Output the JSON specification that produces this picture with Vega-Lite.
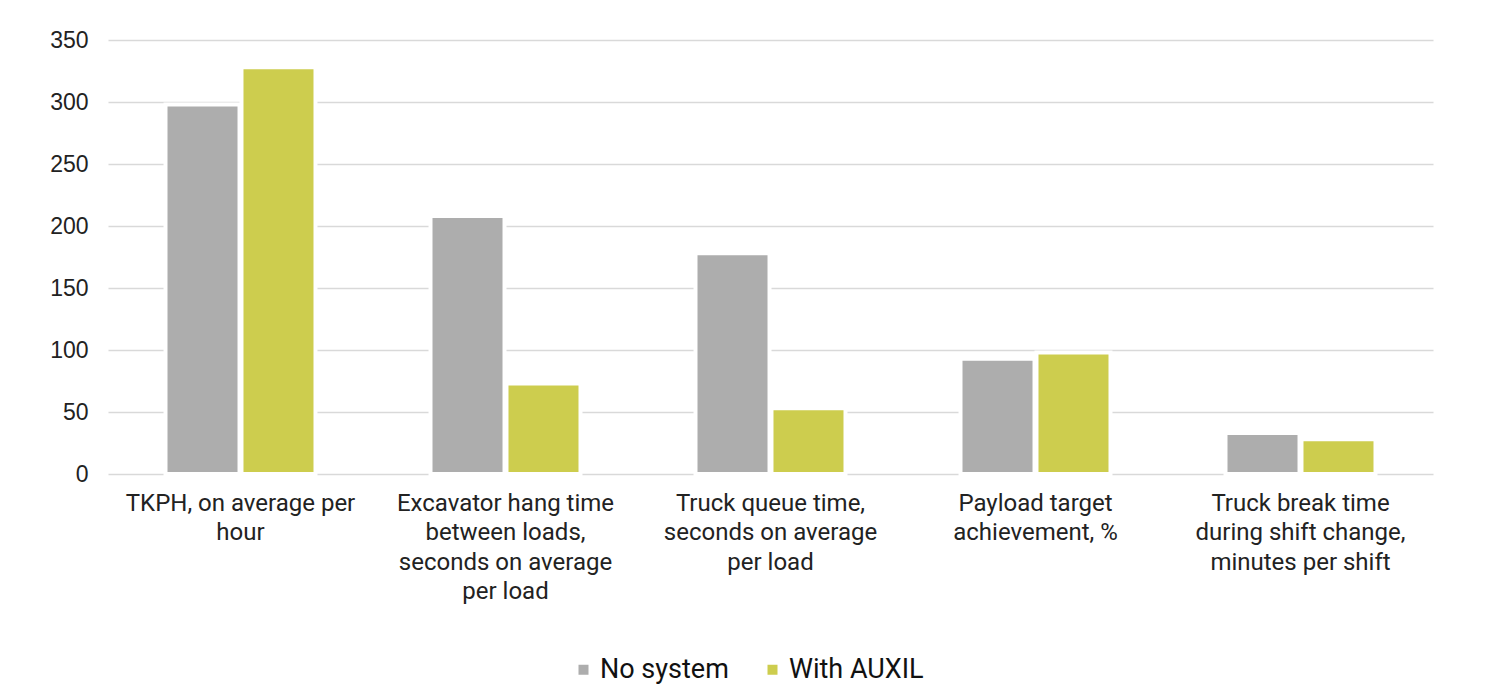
{
  "$schema": "https://vega.github.io/schema/vega-lite/v6.json",
  "width": 1325,
  "height": 434,
  "autosize": {"type": "none"},
  "padding": {"left": 108, "top": 40, "right": 55, "bottom": 225},
  "background": "white",
  "data": {
    "values": [
      {"category": "TKPH, on average per hour", "series": "No system", "value": 298},
      {"category": "TKPH, on average per hour", "series": "With AUXIL", "value": 328},
      {"category": "Excavator hang time between loads, seconds on average per load", "series": "No system", "value": 208},
      {"category": "Excavator hang time between loads, seconds on average per load", "series": "With AUXIL", "value": 73},
      {"category": "Truck queue time, seconds on average per load", "series": "No system", "value": 178},
      {"category": "Truck queue time, seconds on average per load", "series": "With AUXIL", "value": 53},
      {"category": "Payload target achievement, %", "series": "No system", "value": 93},
      {"category": "Payload target achievement, %", "series": "With AUXIL", "value": 98},
      {"category": "Truck break time during shift change, minutes per shift", "series": "No system", "value": 33},
      {"category": "Truck break time during shift change, minutes per shift", "series": "With AUXIL", "value": 28}
    ]
  },
  "mark": {"type": "bar", "stroke": "white", "strokeWidth": 4},
  "encoding": {
    "x": {
      "field": "category",
      "type": "nominal",
      "sort": null,
      "title": null,
      "scale": {"paddingInner": 0.434, "paddingOuter": 0.217},
      "axis": {
        "labelAngle": 0,
        "ticks": false,
        "domain": false,
        "labelPadding": 17,
        "labelFont": "Roboto",
        "labelFontSize": 24,
        "labelColor": "#222222",
        "labelLineHeight": 29.5,
        "labelLimit": 400,
        "labelExpr": "datum.value == 'TKPH, on average per hour' ? ['TKPH, on average per', 'hour'] : datum.value == 'Excavator hang time between loads, seconds on average per load' ? ['Excavator hang time', 'between loads,', 'seconds on average', 'per load'] : datum.value == 'Truck queue time, seconds on average per load' ? ['Truck queue time,', 'seconds on average', 'per load'] : datum.value == 'Payload target achievement, %' ? ['Payload target', 'achievement, %'] : ['Truck break time', 'during shift change,', 'minutes per shift']"
      }
    },
    "xOffset": {
      "field": "series",
      "type": "nominal",
      "scale": {"paddingInner": 0.026, "paddingOuter": 0}
    },
    "y": {
      "field": "value",
      "type": "quantitative",
      "title": null,
      "scale": {"domain": [0, 350], "nice": false},
      "axis": {
        "values": [0, 50, 100, 150, 200, 250, 300, 350],
        "ticks": false,
        "domain": false,
        "labelPadding": 20,
        "labelFont": "Liberation Sans",
        "labelFontSize": 23,
        "labelColor": "#222222",
        "gridColor": "#d9d9d9",
        "gridWidth": 1.5
      }
    },
    "color": {
      "field": "series",
      "type": "nominal",
      "title": null,
      "scale": {"domain": ["No system", "With AUXIL"], "range": ["#adadad", "#cdcd4e"]},
      "legend": {
        "orient": "none",
        "legendX": 462,
        "legendY": 616,
        "padding": 0,
        "direction": "horizontal",
        "symbolType": "square",
        "symbolSize": 100,
        "symbolStrokeWidth": 0,
        "labelFont": "Roboto",
        "labelFontSize": 27,
        "labelColor": "#111111",
        "columnPadding": 30,
        "symbolOffset": 0,
        "labelOffset": 3
      }
    }
  },
  "config": {
    "view": {"stroke": null}
  }
}
